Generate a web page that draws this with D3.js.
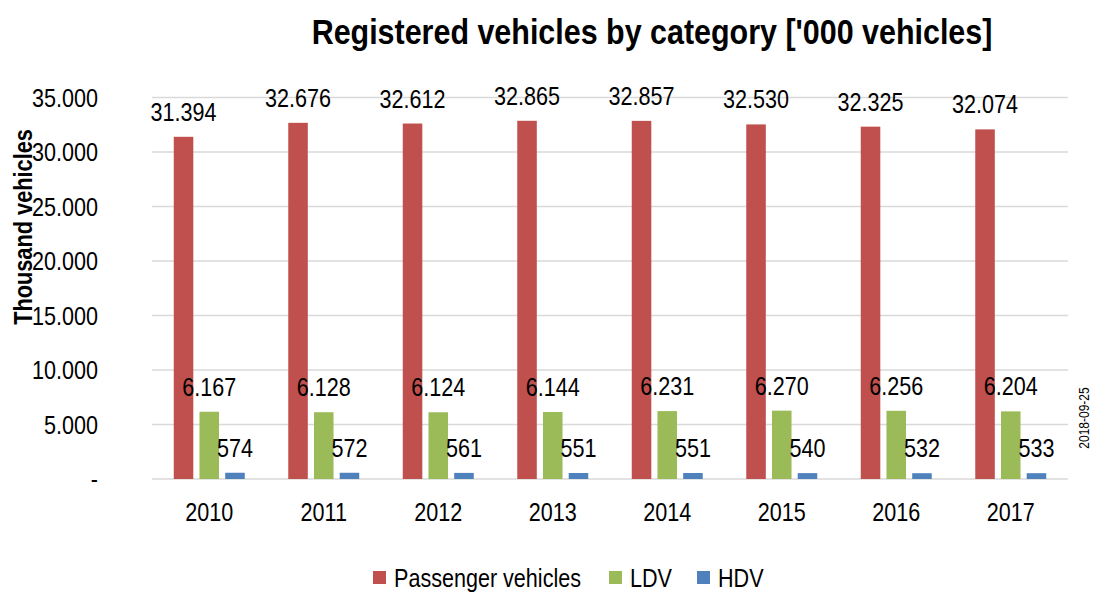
<!DOCTYPE html>
<html>
  <head>
    <meta charset="utf-8">
    <title>Registered vehicles</title>
    <script src="https://d3js.org/d3.v7.min.js"></script>
    <style>
      body { margin: 0; background: #fff; }
      text { font-family: "Liberation Sans", Arial, sans-serif; fill: #000; }
    </style>
  </head>
  <body>
  <script type="text/javascript">
    var years = ['2010','2011','2012','2013','2014','2015','2016','2017'];
    var seriesNames = ['Passenger vehicles','LDV','HDV'];
    var passenger = [31394,32676,32612,32865,32857,32530,32325,32074];
    var ldv = [6167,6128,6124,6144,6231,6270,6256,6204];
    var hdv = [574,572,561,551,551,540,532,533];
    var yTicks = [0,5000,10000,15000,20000,25000,30000,35000];
    var colors = ['#C0504D','#9BBB59','#4F81BD'];

    var allSeries = [passenger, ldv, hdv];
    var W = 1097, H = 592;
    var plotL = 152, plotR = 1068, plotT = 97.5, plotB = 479;
    var NARROW = 0.83; // reference font is a narrow face, squeeze Liberation Sans

    var loc = d3.formatLocale({decimal: ',', thousands: '.', grouping: [3], currency: ['', '']});
    var fmt = function(v){ return v === 0 ? '-' : loc.format(',d')(v); };

    // position a text with a horizontal squeeze
    function at(x, y, sx, rot) {
      return 'translate(' + x + ',' + y + ')' + (rot ? ' rotate(' + rot + ')' : '') + ' scale(' + sx + ',1)';
    }

    var svg = d3.select('body').append('svg')
                .attr('width', W).attr('height', H);

    var x0 = d3.scaleBand().domain(years).range([plotL, plotR]).paddingInner(0.38).paddingOuter(0.19);
    var x1 = d3.scaleBand().domain([0,1,2]).range([0, x0.bandwidth()]).paddingInner(0.24);
    var y = d3.scaleLinear().domain([0, 35000]).range([plotB, plotT]);

    // gridlines
    svg.append('g').selectAll('line')
       .data(yTicks).enter().append('line')
       .attr('x1', plotL).attr('x2', plotR)
       .attr('y1', function(d){ return y(d); }).attr('y2', function(d){ return y(d); })
       .attr('stroke', '#d9d9d9').attr('stroke-width', 1.5);

    // y tick labels
    svg.append('g').selectAll('text')
       .data(yTicks).enter().append('text')
       .attr('transform', function(d){ return at(98, y(d) + 9, NARROW); })
       .attr('text-anchor', 'end').attr('font-size', 26)
       .text(fmt);

    // bars
    var groups = svg.selectAll('g.year')
       .data(years).enter().append('g')
       .attr('class', 'year')
       .attr('transform', function(d){ return 'translate(' + x0(d) + ',0)'; });

    groups.each(function(yr, i){
      var g = d3.select(this);
      allSeries.forEach(function(s, k){
        g.append('rect')
         .attr('x', x1(k)).attr('width', x1.bandwidth())
         .attr('y', y(s[i])).attr('height', plotB - y(s[i]))
         .attr('fill', colors[k]);
        g.append('text')
         .attr('transform', at(x1(k) + x1.bandwidth() / 2, y(s[i]) - 16, NARROW))
         .attr('text-anchor', 'middle').attr('font-size', 26)
         .text(fmt(s[i]));
      });
    });

    // x labels
    svg.append('g').selectAll('text')
       .data(years).enter().append('text')
       .attr('transform', function(d){ return at(x0(d) + x0.bandwidth() / 2, 521, NARROW); })
       .attr('text-anchor', 'middle').attr('font-size', 26)
       .text(function(d){ return d; });

    // title
    svg.append('text')
       .attr('transform', at(652, 44, 0.87))
       .attr('text-anchor', 'middle').attr('font-size', 35).attr('font-weight', 'bold')
       .text("Registered vehicles by category ['000 vehicles]");

    // y axis title
    svg.append('text')
       .attr('transform', at(32, 227, 0.87, -90))
       .attr('text-anchor', 'middle').attr('font-size', 25).attr('font-weight', 'bold')
       .text('Thousand vehicles');

    // date stamp
    svg.append('text')
       .attr('transform', at(1089, 418, 0.8, -90))
       .attr('text-anchor', 'middle').attr('font-size', 15)
       .text('2018-09-25');

    // legend
    var legX = [373, 609, 697];
    var leg = svg.append('g').selectAll('g')
       .data(seriesNames).enter().append('g')
       .attr('transform', function(d, i){ return 'translate(' + legX[i] + ',571)'; });
    leg.append('rect').attr('width', 13).attr('height', 13)
       .attr('fill', function(d, i){ return colors[i]; });
    leg.append('text')
       .attr('transform', at(21, 16, NARROW))
       .attr('font-size', 26)
       .text(function(d){ return d; });
  </script>
  </body>
</html>
